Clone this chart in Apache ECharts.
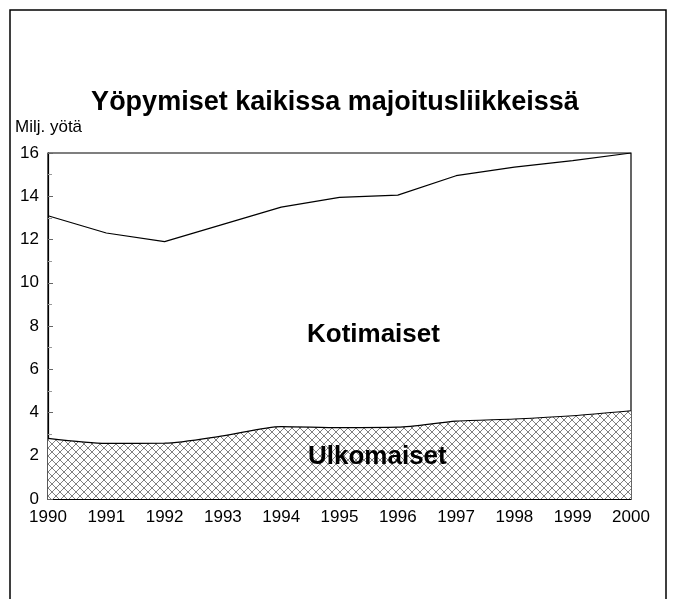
<!DOCTYPE html>
<html>
<head>
<meta charset="utf-8">
<script src="https://cdn.jsdelivr.net/npm/echarts@6/dist/echarts.min.js"></script>
<style>
  html, body { margin: 0; padding: 0; background: #fff; }
  #chart { width: 673px; height: 599px; }
</style>
</head>
<body>
<div id="chart"></div>
<script>
// vuodet ja yöpymiset (milj.)
let years = ['1990', '1991', '1992', '1993', '1994', '1995', '1996', '1997', '1998', '1999', '2000'];
let totalNights = [13.1, 12.3, 11.9, 12.7, 13.5, 13.95, 14.05, 14.95, 15.35, 15.65, 16.0];
let foreignNights = [2.8, 2.57, 2.58, 2.92, 3.35, 3.3, 3.32, 3.6, 3.7, 3.85, 4.08];
let yTicks = [0, 2, 4, 6, 8, 10, 12, 14, 16];

let font = 'Liberation Sans, Arial, sans-serif';

// ristikkokuvio ulkomaisten alueelle
function hatch() {
  let c = document.createElement('canvas');
  c.width = 8;
  c.height = 8;
  let ctx = c.getContext('2d');
  ctx.fillStyle = '#fff';
  ctx.fillRect(0, 0, 8, 8);
  ctx.strokeStyle = '#555';
  ctx.lineWidth = 0.75;
  ctx.beginPath();
  ctx.moveTo(0, 0); ctx.lineTo(8, 8);
  ctx.moveTo(8, 0); ctx.lineTo(0, 8);
  ctx.stroke();
  return c;
}

let chart = echarts.init(document.getElementById('chart'));
chart.setOption({
  animation: false,
  backgroundColor: '#fff',
  title: {
    text: 'Yöpymiset kaikissa majoitusliikkeissä',
    left: 330,
    textAlign: 'center',
    top: 84,
    textStyle: { fontFamily: font, fontSize: 27, fontWeight: 'bold', color: '#000' }
  },
  grid: {
    left: 48, right: 42, top: 153, bottom: 100,
    show: true, borderColor: '#000', borderWidth: 1.2, backgroundColor: 'transparent'
  },
  xAxis: {
    type: 'category',
    data: years,
    boundaryGap: false,
    axisLine: { lineStyle: { color: '#000', width: 1.2 } },
    axisTick: { show: false },
    axisLabel: { color: '#000', fontFamily: font, fontSize: 17, margin: 10 },
    splitLine: { show: false }
  },
  yAxis: {
    type: 'value',
    min: 0, max: 16, interval: 2,
    axisLine: { show: true, lineStyle: { color: '#000', width: 1.2 } },
    axisTick: { show: true, inside: true, length: 5, lineStyle: { color: '#666' } },
    minorTick: { show: true, splitNumber: 2, length: 4, lineStyle: { color: '#999' } },
    axisLabel: {
      color: '#000', fontFamily: font, fontSize: 17, margin: 9,
      formatter: v => yTicks.indexOf(v) >= 0 ? String(v) : ''
    },
    splitLine: { show: false }
  },
  graphic: [
    {
      type: 'rect',
      shape: { x: 10, y: 10, width: 656, height: 620 },
      style: { fill: 'none', stroke: '#000', lineWidth: 1.5 },
      silent: true
    },
    {
      type: 'text', left: 15, top: 119,
      style: { text: 'Milj. yötä', fill: '#000', font: '17px ' + font }
    },
    {
      type: 'text', left: 307, top: 322, z: 10,
      style: { text: 'Kotimaiset', fill: '#000', font: 'bold 26px ' + font }
    },
    {
      type: 'text', left: 308, top: 444, z: 10,
      style: { text: 'Ulkomaiset', fill: '#000', font: 'bold 26px ' + font }
    }
  ],
  series: [
    {
      name: 'Ulkomaiset',
      type: 'line',
      data: foreignNights,
      smooth: 0.25,
      symbol: 'none',
      lineStyle: { color: '#000', width: 1.2 },
      areaStyle: { color: { image: hatch(), repeat: 'repeat' }, opacity: 1 }
    },
    {
      name: 'Yhteensä',
      type: 'line',
      data: totalNights,
      symbol: 'none',
      lineStyle: { color: '#000', width: 1.2 }
    }
  ]
});
</script>
</body>
</html>
